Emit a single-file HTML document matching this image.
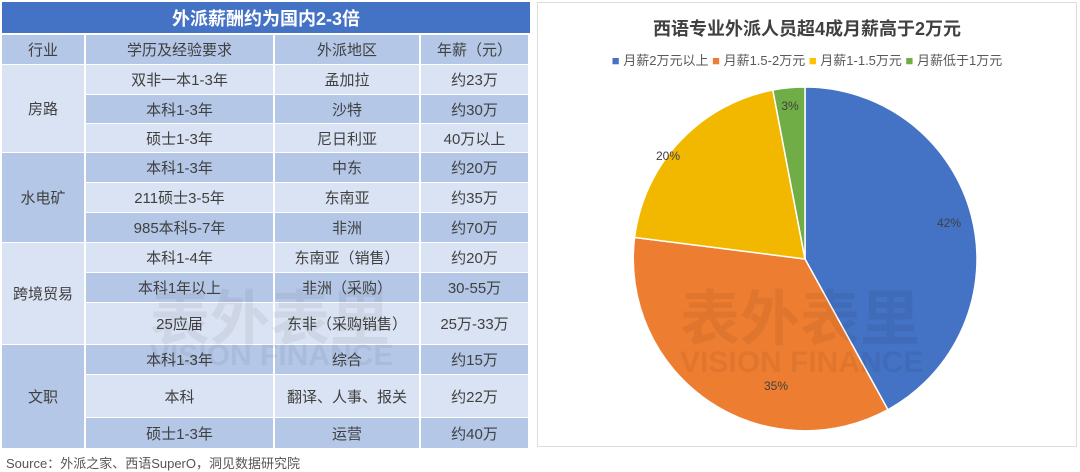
<!DOCTYPE html>
<html><head><meta charset="utf-8"><style>
body{margin:0;width:1080px;height:472px;background:#fff;position:relative;overflow:hidden;font-family:"Liberation Sans","Noto Sans CJK SC",sans-serif;}
.c{position:absolute;display:flex;align-items:center;justify-content:center;font-size:15px;color:#404040;box-sizing:border-box;}
.L{background:#DAE3F3}.D{background:#B4C7E7}
</style></head><body>
<div class="c" style="left:2px;top:2px;width:528px;height:31px;background:#4472C4;color:#fff;font-size:18px;font-weight:bold">外派薪酬约为国内2-3倍</div>
<div id="t"></div>
<script>
var cols=[2,86,275,421,530];
var rows=[[35,64],[65,94],[95,123],[124,152],[153,182],[183,212],[213,242],[243,272],[273,302],[303,344],[345,374],[375,417],[418,448]];
var data=[["行业","学历及经验要求","外派地区","年薪（元）"],
["","双非一本1-3年","孟加拉","约23万"],["","本科1-3年","沙特","约30万"],["","硕士1-3年","尼日利亚","40万以上"],
["","本科1-3年","中东","约20万"],["","211硕士3-5年","东南亚","约35万"],["","985本科5-7年","非洲","约70万"],
["","本科1-4年","东南亚（销售）","约20万"],["","本科1年以上","非洲（采购）","30-55万"],["","25应届","东非（采购销售）","25万-33万"],
["","本科1-3年","综合","约15万"],["","本科","翻译、人事、报关","约22万"],["","硕士1-3年","运营","约40万"]];
var h="";
for(var r=0;r<13;r++){var cl=r==0?"D":(r%2?"L":"D");
for(var c=(r==0?0:1);c<4;c++){h+='<div class="c '+cl+'" style="left:'+cols[c]+'px;top:'+rows[r][0]+'px;width:'+(cols[c+1]-cols[c]-2)+'px;height:'+(rows[r][1]-rows[r][0])+'px">'+data[r][c]+'</div>';}}
var g=[["房路",1,"L"],["水电矿",4,"D"],["跨境贸易",7,"L"],["文职",10,"D"]];
g.forEach(function(x){var t=rows[x[1]][0],b=rows[x[1]+2][1];h+='<div class="c '+x[2]+'" style="left:2px;top:'+t+'px;width:82px;height:'+(b-t)+'px">'+x[0]+'</div>';});
document.getElementById("t").innerHTML=h;
</script>
<div style="position:absolute;left:6px;top:453px;font-size:13px;color:#555">Source：外派之家、西语SuperO，洞见数据研究院</div>
<div style="position:absolute;left:537px;top:2px;width:540px;height:445px;border:1px solid #ddd;box-sizing:border-box"></div>
<div style="position:absolute;left:537px;top:15px;width:540px;text-align:center;font-size:18px;font-weight:bold;color:#404040">西语专业外派人员超4成月薪高于2万元</div>
<div style="position:absolute;left:537px;top:50px;width:540px;text-align:center;font-size:13px;color:#595959">
<span style="color:#4472C4">■</span> 月薪2万元以上 <span style="color:#ED7D31">■</span> 月薪1.5-2万元 <span style="color:#FFC000">■</span> 月薪1-1.5万元 <span style="color:#70AD47">■</span> 月薪低于1万元</div>
<svg style="position:absolute;left:0;top:0" width="1080" height="472">
<g stroke="#fff" stroke-width="1.5">
<path d="M805,259 L805,87 A172,172 0 0 1 887.9,409.7 Z" fill="#4472C4"/>
<path d="M805,259 L887.9,409.7 A172,172 0 0 1 634.6,237.4 Z" fill="#ED7D31"/>
<path d="M805,259 L634.6,237.4 A172,172 0 0 1 772.8,90 Z" fill="#F2B800"/>
<path d="M805,259 L772.8,90 A172,172 0 0 1 805,87 Z" fill="#70AD47"/>
</g>
<g font-size="12" fill="#404040" text-anchor="middle" font-family="Liberation Sans">
<text x="949" y="227">42%</text><text x="776" y="390">35%</text><text x="668" y="160">20%</text><text x="790" y="110">3%</text></g>
<g fill="#000" opacity="0.05" font-weight="bold" font-family="Liberation Sans,Noto Sans CJK SC,sans-serif">
<text x="150" y="340" font-size="60">表外表里</text><text x="150" y="365" font-size="30">VISION FINANCE</text>
<text x="680" y="340" font-size="60">表外表里</text><text x="680" y="372" font-size="30">VISION FINANCE</text></g>
</svg>
</body></html>
